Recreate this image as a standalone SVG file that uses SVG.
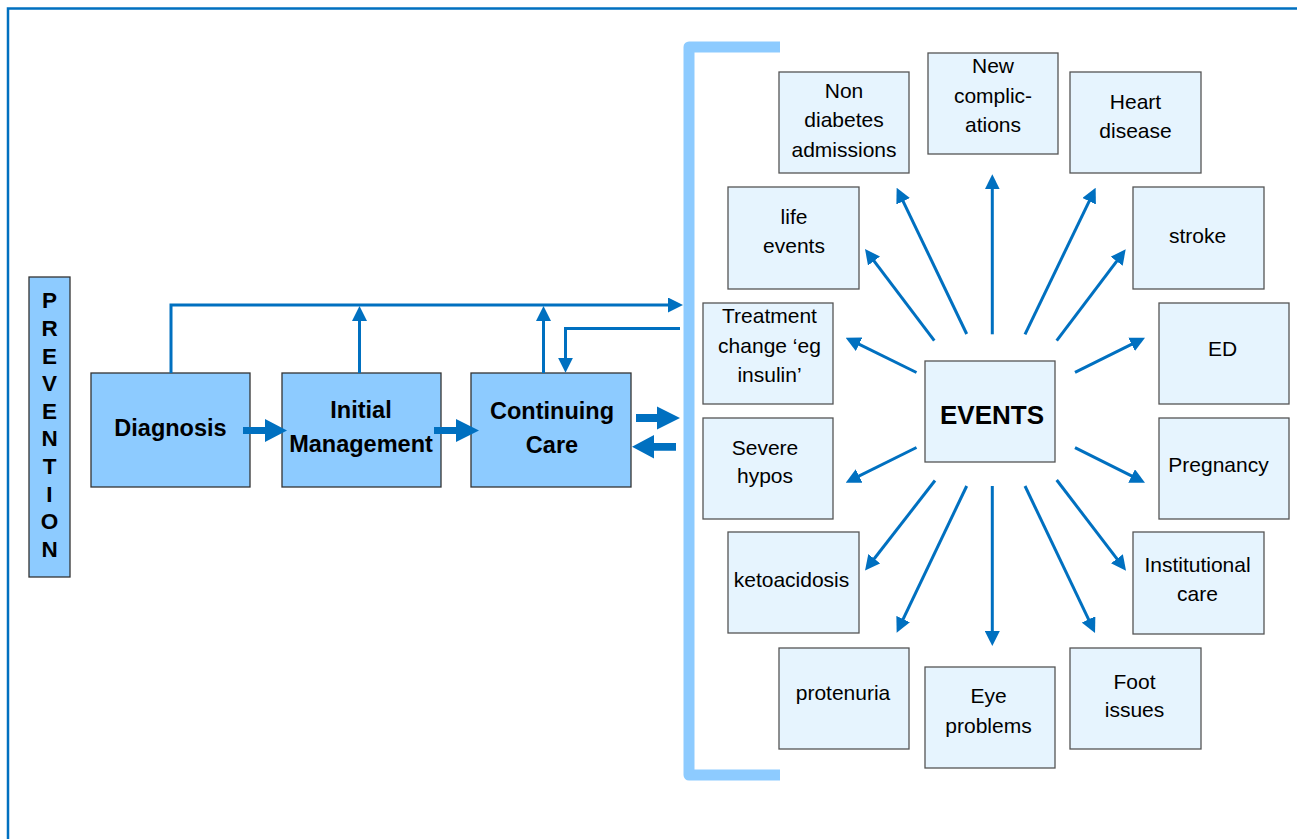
<svg xmlns="http://www.w3.org/2000/svg" width="1297" height="839" viewBox="0 0 1297 839">
<style>
.main{fill:#8DCBFF;stroke:#333;stroke-width:1.3}
.ev{fill:#E6F4FE;stroke:#555;stroke-width:1.3}
.bt{font-family:"Liberation Sans",Arial,sans-serif;font-weight:bold;font-size:23.5px;fill:#000;text-anchor:middle}
.et{font-family:"Liberation Sans",Arial,sans-serif;font-size:21px;fill:#000;text-anchor:middle}
.ln{fill:none;stroke:#0070C0;stroke-width:3;marker-end:url(#ah)}
.blk{fill:#0070C0}
</style>
<defs>
<marker id="ah" viewBox="0 0 10 10" refX="7" refY="5" markerWidth="15" markerHeight="15" markerUnits="userSpaceOnUse" orient="auto">
<path d="M0,0 L10,5 L0,10 z" fill="#0070C0"/>
</marker>
</defs>
<rect width="1297" height="839" fill="#fff"/>
<path d="M8,839 V8.5 H1297" fill="none" stroke="#0070C0" stroke-width="2.5"/>
<path id="bracket" d="M780,47 H689 V775 H780" fill="none" stroke="#8DCBFF" stroke-width="11" stroke-linejoin="round"/>

<g id="prevention">
<rect class="main" x="29" y="277" width="41" height="300"/>
<g class="bt" style="font-size:22.5px">
<text x="49.5" y="308.3">P</text>
<text x="49.5" y="335.9">R</text>
<text x="49.5" y="363.5">E</text>
<text x="49.5" y="391.1">V</text>
<text x="49.5" y="418.7">E</text>
<text x="49.5" y="446.3">N</text>
<text x="49.5" y="473.9">T</text>
<text x="49.5" y="501.5">I</text>
<text x="49.5" y="529.1">O</text>
<text x="49.5" y="556.7">N</text>
</g>
</g>
<g id="diagnosis"><rect class="main" x="91" y="373" width="159" height="114"/><text class="bt" x="170.5" y="435.5">Diagnosis</text></g>
<g id="initial"><rect class="main" x="282" y="373" width="159" height="114"/><text class="bt" x="361" y="418">Initial</text><text class="bt" x="361" y="452">Management</text></g>
<g id="continuing"><rect class="main" x="471" y="373" width="160" height="114"/><text class="bt" x="552" y="419">Continuing</text><text class="bt" x="552" y="453">Care</text></g>

<g id="events-center"><rect class="ev" x="925" y="361" width="130" height="101"/><text class="bt" style="font-size:26px" x="992" y="424">EVENTS</text></g>
<g id="nondiabetes"><rect class="ev" x="779" y="72" width="130" height="101"/><text class="et" x="844" y="98.3">Non</text><text class="et" x="844" y="127">diabetes</text><text class="et" x="844" y="156.7">admissions</text></g>
<g id="newcomp"><rect class="ev" x="928" y="53" width="130" height="101"/><text class="et" x="993" y="73.3">New</text><text class="et" x="993" y="103.3">complic-</text><text class="et" x="993" y="131.7">ations</text></g>
<g id="heart"><rect class="ev" x="1070" y="72" width="131" height="101"/><text class="et" x="1135.5" y="109.3">Heart</text><text class="et" x="1135.5" y="137.7">disease</text></g>
<g id="life"><rect class="ev" x="728" y="187" width="131" height="102"/><text class="et" x="794" y="224.3">life</text><text class="et" x="794" y="253.3">events</text></g>
<g id="stroke"><rect class="ev" x="1133" y="187" width="131" height="102"/><text class="et" x="1197.5" y="243.3">stroke</text></g>
<g id="treatment"><rect class="ev" x="703" y="303" width="130" height="101"/><text class="et" x="769.5" y="323.3">Treatment</text><text class="et" x="769.5" y="353.3">change ‘eg</text><text class="et" x="769.5" y="381.7">insulin’</text></g>
<g id="ed"><rect class="ev" x="1159" y="303" width="130" height="101"/><text class="et" x="1222.5" y="356">ED</text></g>
<g id="severe"><rect class="ev" x="703" y="418" width="130" height="101"/><text class="et" x="765" y="455">Severe</text><text class="et" x="765" y="483.3">hypos</text></g>
<g id="pregnancy"><rect class="ev" x="1159" y="418" width="130" height="101"/><text class="et" x="1218.5" y="471.7">Pregnancy</text></g>
<g id="keto"><rect class="ev" x="728" y="532" width="131" height="101"/><text class="et" x="791.5" y="586.7">ketoacidosis</text></g>
<g id="institutional"><rect class="ev" x="1133" y="532" width="131" height="102"/><text class="et" x="1197.5" y="572.3">Institutional</text><text class="et" x="1197.5" y="600.7">care</text></g>
<g id="protenuria"><rect class="ev" x="779" y="648" width="130" height="101"/><text class="et" x="843" y="700">protenuria</text></g>
<g id="eye"><rect class="ev" x="925" y="667" width="130" height="101"/><text class="et" x="988.5" y="703.3">Eye</text><text class="et" x="988.5" y="732.7">problems</text></g>
<g id="foot"><rect class="ev" x="1070" y="648" width="131" height="101"/><text class="et" x="1134.5" y="689.3">Foot</text><text class="et" x="1134.5" y="717.3">issues</text></g>

<g id="connectors">
<path class="ln" d="M171,373 V305 H678.5"/>
<path class="ln" d="M359.5,373 V310.5"/>
<path class="ln" d="M543.5,373 V310.5"/>
<path class="ln" d="M680,328.5 H565.5 V368.2"/>
<path class="blk" d="M243,427 H265 V419 L287,430.5 L265,442 V434 H243 z"/>
<path class="blk" d="M434,427 H456 V419 L479,430.5 L456,442 V434 H434 z"/>
<path class="blk" d="M636,414 H657 V406.5 L680,418 L657,429.5 V422 H636 z"/>
<path class="blk" d="M676,443 H654 V435 L632,446.8 L654,458.5 V450.7 H676 z"/>
<line class="ln" x1="966.7" y1="334" x2="898.6" y2="191.8"/>
<line class="ln" x1="934.3" y1="340.7" x2="867.7" y2="252.6"/>
<line class="ln" x1="992.3" y1="334.3" x2="992.3" y2="178.8"/>
<line class="ln" x1="1025" y1="334.3" x2="1093.7" y2="191.8"/>
<line class="ln" x1="1056.7" y1="340.7" x2="1123" y2="252.9"/>
<line class="ln" x1="1075" y1="372.3" x2="1141" y2="339.7"/>
<line class="ln" x1="1075" y1="447.7" x2="1141" y2="480.7"/>
<line class="ln" x1="1056.7" y1="480" x2="1123.3" y2="567.1"/>
<line class="ln" x1="1025" y1="486" x2="1093.1" y2="628.9"/>
<line class="ln" x1="992.3" y1="486" x2="992.3" y2="641.5"/>
<line class="ln" x1="966.7" y1="486" x2="898.6" y2="628.6"/>
<line class="ln" x1="935" y1="480.5" x2="867.8" y2="567"/>
<line class="ln" x1="916.5" y1="447.5" x2="849.7" y2="480.7"/>
<line class="ln" x1="916.5" y1="372.5" x2="849.7" y2="339.7"/>
</g>
</svg>
